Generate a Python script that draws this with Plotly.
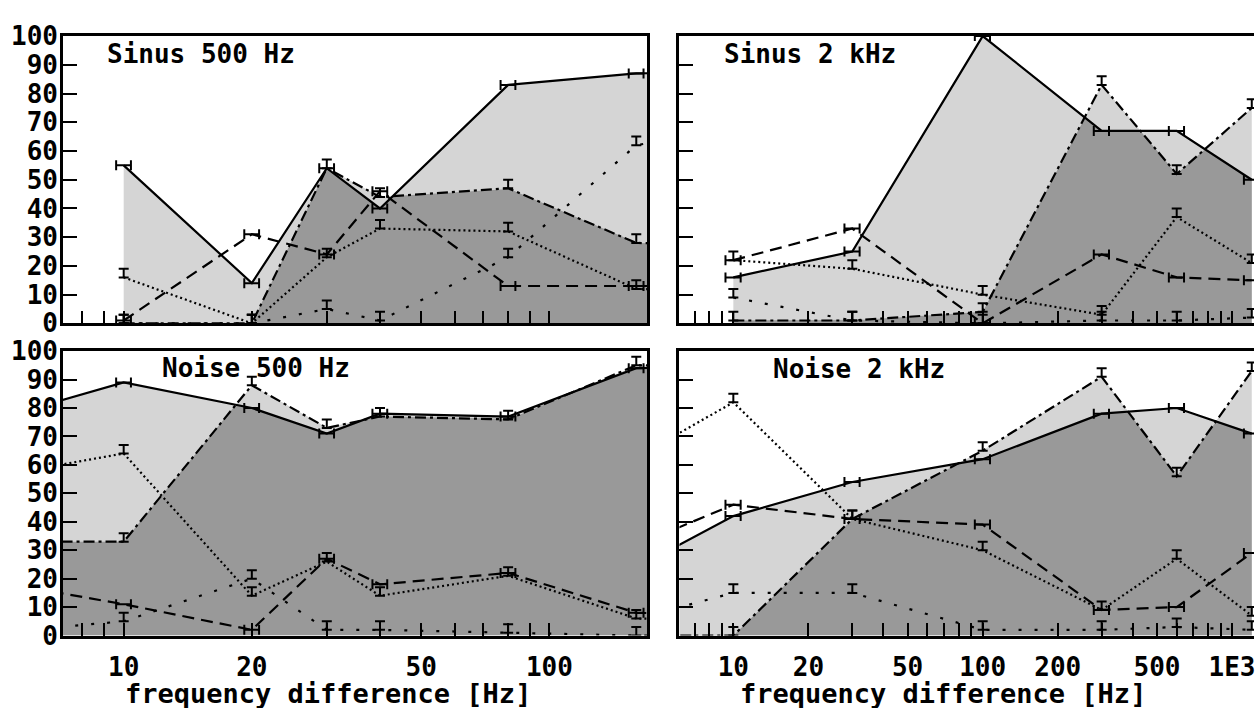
import numpy as np
import plotly.graph_objects as go

# ---------------- data ----------------
# Sinus 500 Hz (top-left); the 320 Hz column lies just past the right border
sin500_f = [10, 20, 30, 40, 80, 160, 320]
sin500_solid = [55, 14, 54, 40, 83, 87, 88]
sin500_dashdot = [0, 0, 54, 44, 47, 28, 27]
sin500_dotted = [16, 0, 23, 33, 32, 12, 11]
sin500_dashed = [1, 31, 24, 46, 13, 13, 13]
sin500_sparse = [0, 0, 5, 1, 23, 62, 70]

# Sinus 2 kHz (top-right)
sin2k_f = [10, 30, 100, 300, 600, 1200]
sin2k_solid = [16, 25, 100, 67, 67, 50]
sin2k_dashdot = [1, 1, 4, 83, 52, 75]
sin2k_dotted = [22, 19, 10, 3, 37, 21]
sin2k_dashed = [22, 33, 0, 24, 16, 15]
sin2k_sparse = [9, 1, 0, 1, 1, 2]

# Noise 500 Hz (bottom-left); 5 Hz and 320 Hz columns lie just past the borders
noi500_f = [5, 10, 20, 30, 40, 80, 160, 320]
noi500_solid = [76, 89, 80, 71, 78, 77, 94, 95]
noi500_dashdot = [33, 33, 88, 73, 77, 76, 95, 95]
noi500_dotted = [56, 64, 14, 26, 14, 21, 6, 5]
noi500_dashed = [19, 11, 2, 27, 18, 22, 8, 7]
noi500_sparse = [1, 5, 20, 2, 2, 1, 0, 0]

# Noise 2 kHz (bottom-right); the 5 Hz column lies just past the left border
noi2k_f = [5, 10, 30, 100, 300, 600, 1200]
noi2k_solid = [28, 42, 54, 62, 78, 80, 71]
noi2k_dashdot = [0, 0, 41, 65, 91, 56, 93]
noi2k_dotted = [67, 82, 41, 30, 9, 27, 7]
noi2k_dashed = [35, 46, 41, 39, 9, 10, 29]
noi2k_sparse = [8, 15, 15, 2, 2, 3, 2]

panel_titles = ["Sinus 500 Hz", "Sinus 2 kHz", "Noise 500 Hz", "Noise 2 kHz"]
x_title = "frequency difference [Hz]"

left_tickvals = [8, 9, 10, 20, 30, 40, 50, 60, 70, 80, 90, 100]
left_ticktext = ["", "", "10", "20", "", "", "50", "", "", "", "", "100"]
right_tickvals = [7, 8, 9, 10, 20, 30, 40, 50, 60, 70, 80, 90,
                  100, 200, 300, 400, 500, 600, 700, 800, 900, 1000]
right_ticktext = ["", "", "", "10", "20", "", "", "50", "", "", "", "",
                  "100", "200", "", "", "500", "", "", "", "", "1E3"]
y_tickvals = [0, 10, 20, 30, 40, 50, 60, 70, 80, 90, 100]
y_ticktext = ["0", "10", "20", "30", "40", "50", "60", "70", "80", "90", "100"]

# ---------------- styling ----------------
W, H = 1255, 708
FONT = "DejaVu Sans Mono"
LIGHT = "#d5d5d5"
DARK = "#999999"


def px_x(p):
    return p / W


def px_y(p):
    return (H - p) / H


panels = [
    (sin500_f, sin500_solid, sin500_dashdot, sin500_dotted, sin500_dashed, sin500_sparse, "x", "y", 4),
    (sin2k_f, sin2k_solid, sin2k_dashdot, sin2k_dotted, sin2k_dashed, sin2k_sparse, "x2", "y2", 7),
    (noi500_f, noi500_solid, noi500_dashdot, noi500_dotted, noi500_dashed, noi500_sparse, "x3", "y3", 4),
    (noi2k_f, noi2k_solid, noi2k_dashdot, noi2k_dotted, noi2k_dashed, noi2k_sparse, "x4", "y4", 7),
]

fig = go.Figure()


def envelopes(f, a, b, n=800):
    lx = np.log10(np.asarray(f, dtype=float))
    grid = np.unique(np.concatenate([np.linspace(lx.min(), lx.max(), n), lx]))
    ia = np.interp(grid, lx, np.asarray(a, dtype=float))
    ib = np.interp(grid, lx, np.asarray(b, dtype=float))
    return 10 ** grid, np.maximum(ia, ib), np.minimum(ia, ib)


for f, solid, dashdot, dotted, dashed, sparse, xr, yr, pct in panels:
    gx, hi, lo = envelopes(f, solid, dashdot)
    fig.add_trace(go.Scatter(x=gx, y=hi, mode="lines", fill="tozeroy",
                             fillcolor=LIGHT, line=dict(width=0, color=LIGHT),
                             xaxis=xr, yaxis=yr, hoverinfo="skip", showlegend=False))
    fig.add_trace(go.Scatter(x=gx, y=lo, mode="lines", fill="tozeroy",
                             fillcolor=DARK, line=dict(width=0, color=DARK),
                             xaxis=xr, yaxis=yr, hoverinfo="skip", showlegend=False))
    n = len(f)
    err_h = dict(type="percent", value=pct, color="black", thickness=2, width=5)
    err_t = dict(type="data", symmetric=False, array=[3] * n, arrayminus=[0] * n,
                 color="black", thickness=2, width=5)
    series = [
        (sparse, "3px,13px", None, err_t),
        (dotted, "2px,3px", None, err_t),
        (dashed, "12px,7px", err_h, None),
        (dashdot, "11px,4px,3px,4px", None, err_t),
        (solid, "solid", err_h, None),
    ]
    for vals, dash, ex, ey in series:
        tr = dict(x=f, y=vals, mode="lines", line=dict(color="black", width=2.2, dash=dash),
                  xaxis=xr, yaxis=yr, showlegend=False)
        if ex is not None:
            tr["error_x"] = ex
        if ey is not None:
            tr["error_y"] = ey
        fig.add_trace(go.Scatter(**tr))

left_dom = [px_x(63), px_x(648)]
right_dom = [px_x(680), 1.0]
top_dom = [px_y(322), px_y(22)]
bot_dom = [px_y(648), px_y(351)]

tickfont = dict(family=FONT, size=26, color="black", weight="bold")


def xaxis(dom, rng, tv, tt, anchor, labels):
    return dict(domain=dom, type="log", range=rng, anchor=anchor,
                tickvals=tv, ticktext=tt, ticks="inside", ticklen=13, tickwidth=2,
                tickcolor="black", showticklabels=labels, tickfont=tickfont,
                showline=True, linecolor="black", linewidth=2.5, mirror=True,
                showgrid=False, zeroline=False, ticklabelstandoff=7,
                ticklabeloverflow="allow")


def yaxis(dom, anchor, labels, mirror):
    return dict(domain=dom, range=[0, 100], anchor=anchor,
                tickvals=y_tickvals, ticktext=y_ticktext, ticks="inside", ticklen=14,
                tickwidth=2, tickcolor="black", showticklabels=labels, tickfont=tickfont,
                showline=True, linecolor="black", linewidth=2.5, mirror=mirror,
                showgrid=False, zeroline=False, ticklabelstandoff=-3)


lrange = [np.log10(7.2), np.log10(170)]
rrange = [np.log10(6.08), np.log10(1225)]

fig.update_layout(
    width=W, height=H, margin=dict(l=0, r=0, t=0, b=0),
    paper_bgcolor="white", plot_bgcolor="white",
    xaxis=xaxis(left_dom, lrange, left_tickvals, left_ticktext, "y", False),
    yaxis=yaxis(top_dom, "x", True, True),
    xaxis2=xaxis(right_dom, rrange, right_tickvals, right_ticktext, "y2", False),
    yaxis2=yaxis(top_dom, "x2", False, False),
    xaxis3=xaxis(left_dom, lrange, left_tickvals, left_ticktext, "y3", True),
    yaxis3=yaxis(bot_dom, "x3", True, True),
    xaxis4=xaxis(right_dom, rrange, right_tickvals, right_ticktext, "y4", True),
    yaxis4=yaxis(bot_dom, "x4", False, False),
)

title_pos = [(105, 41), (723, 41), (160, 369), (772, 370)]
for txt, (px, py) in zip(panel_titles, title_pos):
    fig.add_annotation(text=txt, xref="paper", yref="paper", x=px_x(px), y=px_y(py),
                       xanchor="left", yanchor="middle", showarrow=False,
                       font=dict(family=FONT, size=26, color="black", weight="bold"))

for cx in (328, 944):
    fig.add_annotation(text=x_title, xref="paper", yref="paper", x=px_x(cx), y=px_y(709),
                       xanchor="center", yanchor="middle", showarrow=False,
                       font=dict(family=FONT, size=27, color="black", weight="bold"))

fig.write_html("out.html")
